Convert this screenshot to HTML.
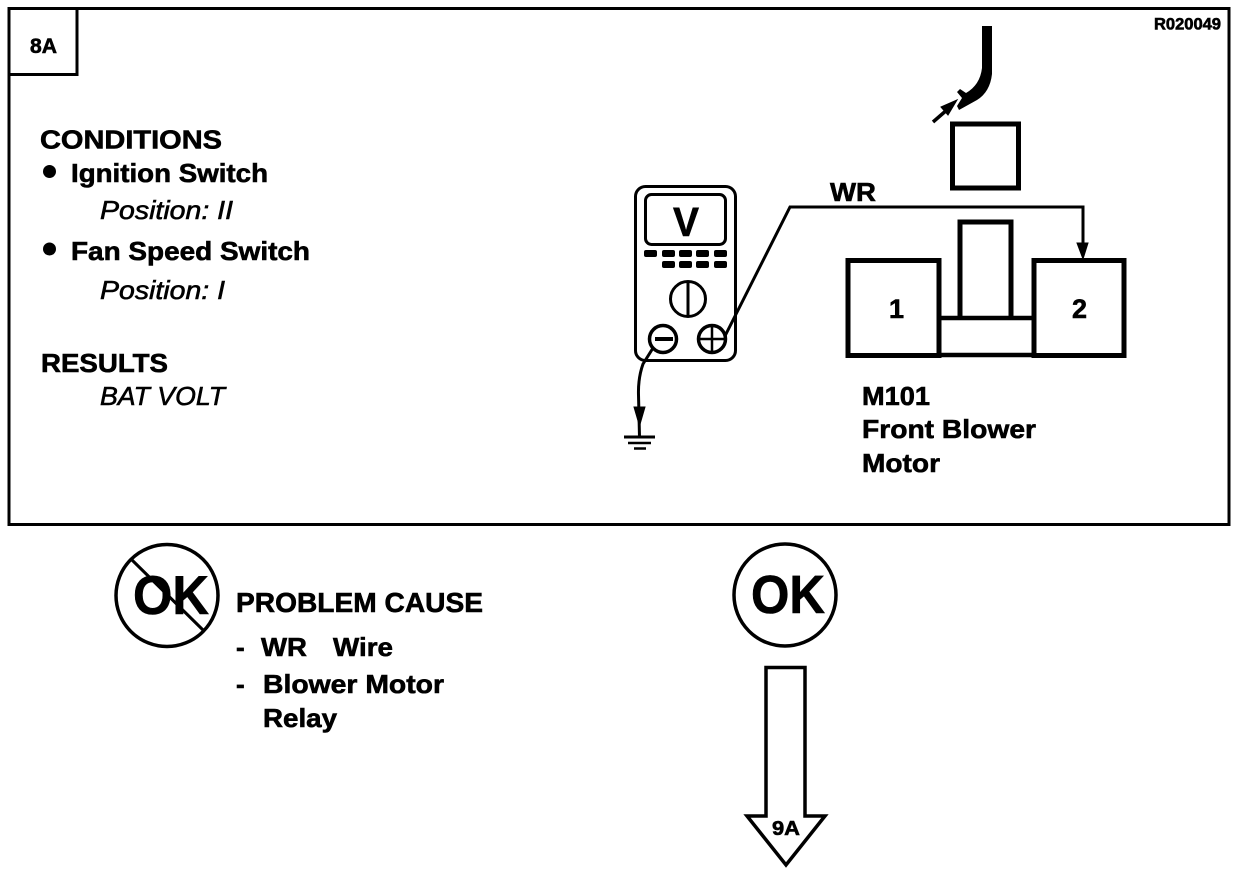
<!DOCTYPE html>
<html><head><meta charset="utf-8"><style>
html,body{margin:0;padding:0;background:#fff}
svg{display:block}
text{font-family:"Liberation Sans",sans-serif;font-weight:bold;fill:#000;stroke:#000;stroke-width:.6}
.i{font-style:italic;font-weight:normal;stroke-width:.6}
</style></head><body>
<svg width="1248" height="874" viewBox="0 0 1248 874" xmlns="http://www.w3.org/2000/svg">
<rect width="1248" height="874" fill="#fff"/>
<g fill="none" stroke="#000">
<rect x="9" y="8.5" width="1220" height="516" stroke-width="3"/>
<path d="M9 74.5H77V9" stroke-width="3"/>
<!-- probe -->
<path d="M982 26H992V74Q990 92 977 100L959 110L957 106L962 98L957 92L960 89L966 93Q980 85 982 68Z" fill="#000" stroke="none"/>
<path d="M933 122L948 109" stroke-width="3.5"/>
<path d="M941 107L957 100L948 115Z" fill="#000" stroke-width="1"/>
<rect x="952.5" y="124" width="66" height="64" stroke-width="5"/>
<!-- connector -->
<path d="M848 260.5H939V355.5H848Z" stroke-width="5"/>
<path d="M1034 260.5H1124V355.5H1034Z" stroke-width="5"/>
<path d="M939 318H1034M939 355H1034" stroke-width="4.5"/>
<path d="M960 318V222H1011V318" stroke-width="5"/>
<!-- wire -->
<path d="M725 336L790 207H1083V250" stroke-width="3"/>
<path d="M1077 243H1088L1083 259Z" fill="#000" stroke-width="1"/>
<!-- meter -->
<rect x="635.5" y="186.5" width="100" height="174" rx="10" stroke-width="3"/>
<rect x="645.5" y="194.5" width="80" height="50" rx="6" stroke-width="3"/>
<g fill="#000" stroke="none">
<rect x="644" y="250" width="13" height="7" rx="2"/><rect x="662" y="250" width="13" height="7" rx="2"/><rect x="679" y="250" width="13" height="7" rx="2"/><rect x="696" y="250" width="13" height="7" rx="2"/><rect x="714" y="250" width="13" height="7" rx="2"/>
<rect x="662" y="261" width="13" height="7" rx="2"/><rect x="679" y="261" width="13" height="7" rx="2"/><rect x="696" y="261" width="13" height="7" rx="2"/><rect x="714" y="261" width="13" height="7" rx="2"/>
</g>
<circle cx="688" cy="299" r="17.5" stroke-width="3"/>
<path d="M688 281V317" stroke-width="3"/>
<circle cx="663" cy="339" r="13.5" stroke-width="3.5"/>
<path d="M655 339H673" stroke-width="4"/>
<circle cx="712" cy="339" r="13.5" stroke-width="3.5"/>
<path d="M699 339H725M712 326V352" stroke-width="2.5"/>
<!-- ground -->
<path d="M653 348L643 364Q638 378 638.5 395L639.5 437" stroke-width="3"/>
<path d="M634 407H645L639.5 426Z" fill="#000" stroke-width="1"/>
<path d="M624 437H655" stroke-width="3"/>
<path d="M628 443H651" stroke-width="2.5"/>
<path d="M634 448.5H646" stroke-width="2.5"/>
<!-- circles -->
<circle cx="167" cy="595.5" r="51" stroke-width="3.5"/>
<path d="M132 560L203 630" stroke-width="3"/>
<circle cx="785" cy="595" r="51" stroke-width="3.5"/>
<path d="M766 667.5H805V816H825L786 865L747 816H766Z" stroke-width="3.5" stroke-linejoin="miter"/>
</g>
<circle cx="49.5" cy="171.5" r="6.5" fill="#000"/>
<circle cx="49.5" cy="249" r="6.5" fill="#000"/>
<text x="30" y="53" font-size="21" textLength="27" lengthAdjust="spacingAndGlyphs">8A</text>
<text x="1154" y="29.5" font-size="16.5" textLength="67" lengthAdjust="spacingAndGlyphs">R020049</text>
<text x="40" y="148.5" font-size="26" textLength="182" lengthAdjust="spacingAndGlyphs">CONDITIONS</text>
<text x="71" y="182" font-size="26" textLength="197" lengthAdjust="spacingAndGlyphs">Ignition Switch</text>
<text x="100" y="219" font-size="26" class="i" textLength="133" lengthAdjust="spacingAndGlyphs">Position: II</text>
<text x="71" y="260" font-size="26" textLength="239" lengthAdjust="spacingAndGlyphs">Fan Speed Switch</text>
<text x="100" y="299" font-size="26" class="i" textLength="125" lengthAdjust="spacingAndGlyphs">Position: I</text>
<text x="41" y="372" font-size="26" textLength="127" lengthAdjust="spacingAndGlyphs">RESULTS</text>
<text x="100" y="405" font-size="26" class="i" textLength="125" lengthAdjust="spacingAndGlyphs">BAT VOLT</text>
<text x="830" y="201" font-size="26" textLength="46" lengthAdjust="spacingAndGlyphs">WR</text>
<text x="673" y="236" font-size="41" textLength="26" lengthAdjust="spacingAndGlyphs">V</text>
<text x="889" y="318" font-size="27">1</text>
<text x="1072" y="318" font-size="27">2</text>
<text x="862" y="405" font-size="26" textLength="68" lengthAdjust="spacingAndGlyphs">M101</text>
<text x="862" y="438" font-size="26" textLength="174" lengthAdjust="spacingAndGlyphs">Front Blower</text>
<text x="862" y="472" font-size="26" textLength="78" lengthAdjust="spacingAndGlyphs">Motor</text>
<text x="133" y="614" font-size="55" textLength="76" lengthAdjust="spacingAndGlyphs">OK</text>
<text x="751" y="613" font-size="54" textLength="74" lengthAdjust="spacingAndGlyphs">OK</text>
<text x="236" y="612" font-size="27.5" textLength="247" lengthAdjust="spacingAndGlyphs">PROBLEM CAUSE</text>
<text x="236" y="656" font-size="26">-</text>
<text x="261" y="656" font-size="26" textLength="46" lengthAdjust="spacingAndGlyphs">WR</text>
<text x="333" y="656" font-size="26" textLength="60" lengthAdjust="spacingAndGlyphs">Wire</text>
<text x="236" y="693" font-size="26">-</text>
<text x="263" y="693" font-size="26" textLength="181" lengthAdjust="spacingAndGlyphs">Blower Motor</text>
<text x="263" y="727" font-size="26" textLength="74" lengthAdjust="spacingAndGlyphs">Relay</text>
<text x="772" y="835" font-size="20" textLength="28" lengthAdjust="spacingAndGlyphs">9A</text>
</svg>
</body></html>
